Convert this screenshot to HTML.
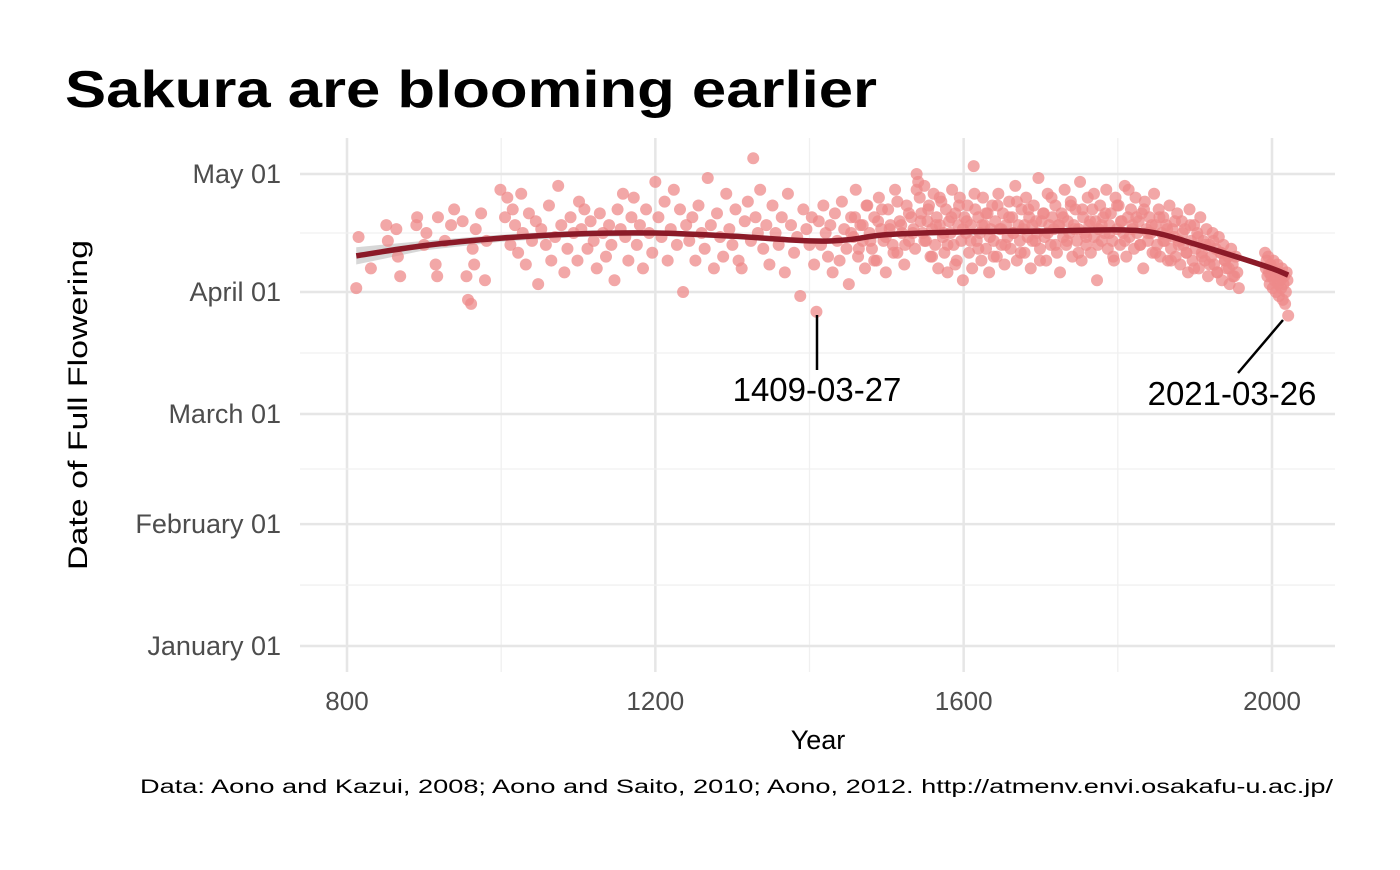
<!DOCTYPE html>
<html><head><meta charset="utf-8">
<style>
body{margin:0;background:#fff;width:1400px;height:865px;overflow:hidden;font-family:"Liberation Sans",sans-serif}
svg text{font-family:"Liberation Sans",sans-serif}
</style></head>
<body>
<svg id="chart" width="1400" height="865" viewBox="0 0 1400 865">
<text x="65" y="107" font-size="52" font-weight="bold" fill="#000" textLength="812" lengthAdjust="spacingAndGlyphs">Sakura are blooming earlier</text>
<g id="grid"></g>
<g id="ribbon"></g>
<g id="points"></g>
<g id="smooth"></g>
<g id="axes"></g>
<text x="818" y="749" font-size="27" fill="#000" text-anchor="middle">Year</text>
<text transform="translate(87,405) rotate(-90)" font-size="27" fill="#000" text-anchor="middle" textLength="330" lengthAdjust="spacingAndGlyphs">Date of Full Flowering</text>
<text x="140" y="793" font-size="19" fill="#000" textLength="1193" lengthAdjust="spacingAndGlyphs">Data: Aono and Kazui, 2008; Aono and Saito, 2010; Aono, 2012. http://atmenv.envi.osakafu-u.ac.jp/</text>
<line x1="817" y1="315" x2="817" y2="370" stroke="#000" stroke-width="2.5"/>
<text x="817" y="401" font-size="33" text-anchor="middle">1409-03-27</text>
<line x1="1283" y1="320" x2="1238" y2="373" stroke="#000" stroke-width="2.5"/>
<text x="1232" y="405" font-size="33" text-anchor="middle">2021-03-26</text>
</svg>
<script>
const years=[812,815,831,851,853,864,866,869,890,891,900,903,915,917,918,927,935,939,950,955,957,961,963,965,967,974,979,981,999,1005,1008,1012,1015,1018,1022,1026,1028,1032,1036,1040,1045,1048,1052,1058,1062,1065,1070,1074,1078,1082,1086,1090,1094,1099,1101,1104,1108,1112,1116,1120,1124,1128,1132,1136,1140,1143,1147,1151,1155,1158,1161,1165,1169,1172,1176,1180,1184,1188,1192,1196,1200,1204,1208,1212,1216,1220,1224,1228,1232,1236,1240,1244,1248,1252,1256,1260,1264,1268,1272,1276,1280,1284,1288,1292,1296,1300,1304,1308,1312,1316,1320,1324,1327,1330,1333,1336,1340,1344,1348,1352,1356,1360,1364,1368,1372,1376,1380,1384,1388,1392,1396,1400,1403,1406,1409,1412,1415,1418,1421,1424,1427,1430,1433,1436,1439,1442,1445,1448,1451,1454,1457,1460,1463,1466,1469,1472,1475,1478,1481,1484,1487,1490,1493,1496,1499,1502,1505,1508,1511,1514,1517,1520,1523,1526,1529,1532,1535,1537,1539,1541,1543,1545,1547,1549,1551,1553,1555,1557,1559,1561,1563,1565,1567,1569,1571,1573,1575,1577,1579,1581,1583,1585,1587,1589,1591,1593,1595,1597,1599,1601,1603,1605,1607,1609,1611,1613,1615,1617,1619,1621,1623,1625,1627,1629,1631,1633,1635,1637,1639,1641,1643,1645,1647,1649,1651,1653,1655,1657,1659,1661,1663,1665,1667,1669,1671,1673,1675,1677,1679,1681,1683,1685,1687,1689,1691,1693,1695,1697,1699,1701,1703,1705,1707,1709,1711,1713,1715,1717,1719,1721,1723,1725,1727,1729,1731,1733,1735,1737,1739,1741,1743,1745,1747,1749,1751,1753,1755,1757,1759,1761,1763,1765,1767,1769,1771,1773,1775,1777,1779,1781,1783,1785,1787,1789,1791,1793,1795,1797,1799,1801,1803,1805,1807,1809,1811,1813,1815,1817,1819,1821,1823,1825,1827,1829,1831,1833,1835,1837,1839,1841,1843,1845,1847,1849,1851,1853,1855,1857,1859,1861,1863,1865,1867,1869,1871,1873,1875,1877,1879,1881,1883,1885,1887,1889,1891,1893,1895,1897,1899,1901,1903,1905,1907,1909,1911,1913,1915,1917,1919,1921,1923,1925,1927,1929,1931,1933,1935,1937,1939,1941,1943,1945,1947,1949,1951,1953,1955,1957,1959,1961,1963,1965,1967,1969,1971,1973,1975,1977,1979,1981,1983,1985,1987,1989];
const doys=[92,105,97,108,104,107,100,95,108,110,103,106,98,95,110,104,108,112,109,95,89,88,102,98,107,111,94,104,117,110,115,103,112,108,101,116,106,98,111,104,109,93,107,103,113,99,105,118,108,96,102,110,106,99,114,107,112,102,109,104,97,111,106,100,108,103,94,112,107,116,105,99,110,115,103,108,97,112,106,101,119,110,105,114,99,107,117,103,112,91,108,104,110,99,113,106,102,120,108,97,111,105,100,116,107,103,112,99,97,109,114,104,125,110,106,117,102,108,98,113,106,103,110,96,116,108,101,105,90,112,107,103,110,98,86,109,103,113,106,100,108,96,111,104,99,114,107,102,93,110,105,117,100,108,104,97,113,106,102,110,99,115,107,104,96,112,108,103,117,101,109,106,98,113,104,110,107,102,121,119,115,111,106,118,104,109,113,100,107,116,103,110,97,108,114,105,101,112,96,109,106,117,103,111,99,108,115,104,94,110,106,113,101,108,97,123,112,104,110,106,99,115,108,102,111,96,107,113,104,109,100,116,107,103,111,98,108,105,114,102,110,106,118,99,108,104,112,107,101,115,105,110,97,108,113,104,106,120,102,109,111,105,99,116,108,103,110,107,113,101,108,96,111,105,117,103,109,106,114,100,108,112,104,107,119,99,110,106,103,115,108,101,112,105,109,94,107,113,104,110,106,117,102,108,111,104,99,115,107,113,103,109,106,118,100,110,105,112,108,102,115,106,109,103,111,97,114,107,104,110,106,101,116,108,103,112,100,106,110,104,108,99,113,102,107,105,100,111,104,98,109,103,107,101,96,112,104,99,108,102,106,97,110,101,104,99,107,95,103,100,106,98,102,96,105,101,94,103,99,97,100,93,102,98,95,100,96,92];
const lateYears=[1991,1992,1993,1994,1995,1996,1997,1998,1999,2000,2001,2002,2003,2004,2005,2006,2007,2008,2009,2010,2011,2012,2013,2014,2015,2016,2017,2018,2019,2020,2021];
const lateDoys=[101,97,99,95,100,96,93,98,95,97,92,99,94,96,91,95,98,93,90,96,94,92,97,89,93,95,88,91,96,94,85];
const extraYears=[1454,1459,1464,1469,1474,1479,1484,1489,1494,1499,1504,1509,1514,1519,1524,1529,1534,1539,1544,1549,1554,1559,1564,1569,1574,1579,1584,1589,1594,1599,1604,1609,1614,1619,1624,1629,1634,1639,1644,1649,1654,1659,1664,1669,1674,1679,1684,1689,1694,1699,1704,1709,1714,1719,1724,1729,1734,1739,1744,1749,1754,1759,1764,1769,1774,1779,1784,1789,1794,1799,1804,1809,1814,1819,1824,1829,1834,1839,1844,1849,1854,1859,1864,1869,1874,1879,1884,1889,1894,1899,1904,1909,1914,1919,1924,1929,1934,1939,1944,1949];
const extraDoys=[106,110,102,108,113,104,99,109,112,105,107,101,114,108,103,111,106,117,109,104,112,100,108,115,106,103,110,98,113,107,109,104,116,102,108,111,105,100,113,107,103,110,106,114,101,108,112,104,109,99,111,106,115,103,108,110,104,113,107,101,112,105,109,116,103,108,111,106,100,113,109,104,117,107,110,103,112,106,108,101,110,104,107,99,109,103,106,101,108,97,105,100,103,98,104,96,101,99,97,95];
const smoothYears=[812,900,1000,1100,1200,1300,1400,1450,1500,1600,1700,1800,1850,1900,1950,2000,2021];
const smoothDoy=[100.2,102.8,104.7,105.8,106.0,105.2,104.0,104.3,105.6,106.3,106.5,106.8,106,103.2,100.2,97.0,95.3];
const smoothSe=[2.2,1.2,0.9,0.8,0.7,0.7,0.6,0.5,0.5,0.5,0.5,0.5,0.5,0.5,0.5,0.7,0.9];
const xTicks=[800,1200,1600,2000];
const xMinor=[1000,1400,1800];
const yTickDoy=[1,32,60,91,121];
const yTickLabels=["January 01","February 01","March 01","April 01","May 01"];

const ns="http://www.w3.org/2000/svg";
const X=y=>347+(y-800)*(1272-347)/1200;
const Y=d=>646-(d-1)*3.933;
function mk(tag,attrs,parent){const e=document.createElementNS(ns,tag);for(const k in attrs)e.setAttribute(k,attrs[k]);parent.appendChild(e);return e;}
const grid=document.getElementById('grid'),axes=document.getElementById('axes');
const L=300,R=1335,T=138,B=672;
xTicks.forEach((t,i)=>{const l=mk('line',{x1:X(t),x2:X(t),y1:T,y2:B,stroke:'#e6e6e6','stroke-width':2.5},grid);


const tx=mk('text',{x:X(t),y:710,'font-size':26,fill:'#4d4d4d','text-anchor':'middle'},axes);tx.textContent=t;

});
xMinor.forEach(t=>{const l=mk('line',{x1:X(t),x2:X(t),y1:T,y2:B,stroke:'#f0f0f0','stroke-width':1.3},grid);

});
yTickDoy.forEach((d,i)=>{const l=mk('line',{x1:L,x2:R,y1:Y(d),y2:Y(d),stroke:'#e6e6e6','stroke-width':2.5},grid);


const tx=mk('text',{x:281,y:Y(d)+9,'font-size':27,fill:'#4d4d4d','text-anchor':'end'},axes);tx.textContent=yTickLabels[i];


if(i<yTickDoy.length-1){const m=(Y(d)+Y(yTickDoy[i+1]))/2;const ml=mk('line',{x1:L,x2:R,y1:m,y2:m,stroke:'#f0f0f0','stroke-width':1.3},grid);

}});
const rib=document.getElementById('ribbon');
let up=smoothYears.map((y,i)=>X(y)+','+Y(smoothDoy[i]+smoothSe[i]));
let lo=smoothYears.map((y,i)=>X(y)+','+Y(smoothDoy[i]-smoothSe[i])).reverse();
const rp=mk('polygon',{points:up.concat(lo).join(' '),fill:'#bdbdbd','fill-opacity':0.6},rib);


const pts=document.getElementById('points');
function drawPts(ys,ds){const n=Math.min(ys.length,ds.length);for(let i=0;i<n;i++){
const c=mk('circle',{cx:X(ys[i]),cy:Y(ds[i]),r:6,fill:'#ee8a8a','fill-opacity':0.75},pts);

}}
drawPts(years,doys);
drawPts(extraYears,extraDoys);
drawPts(lateYears,lateDoys);
const P=smoothYears.map((y,i)=>[X(y),Y(smoothDoy[i])]);
let d='M'+P[0][0]+','+P[0][1];
for(let i=0;i<P.length-1;i++){const p0=P[Math.max(0,i-1)],p1=P[i],p2=P[i+1],p3=P[Math.min(P.length-1,i+2)];
d+=' C'+(p1[0]+(p2[0]-p0[0])/6)+','+(p1[1]+(p2[1]-p0[1])/6)+' '+(p2[0]-(p3[0]-p1[0])/6)+','+(p2[1]-(p3[1]-p1[1])/6)+' '+p2[0]+','+p2[1];}
const sp=mk('path',{d:d,fill:'none',stroke:'#8b1a28','stroke-width':5.5},document.getElementById('smooth'));


</script>
</body></html>
